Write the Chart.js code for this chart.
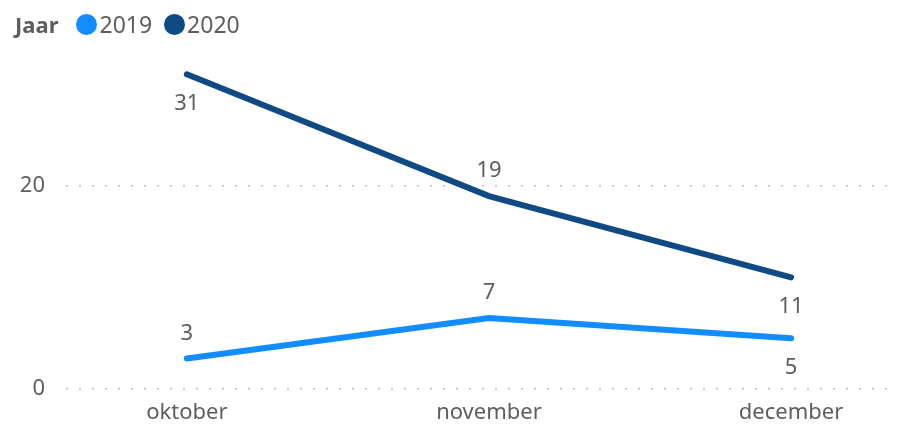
<!DOCTYPE html>
<html lang="nl">
<head>
  <meta charset="UTF-8">
  <title>Jaar 2019 / 2020</title>
  <script src="https://cdn.jsdelivr.net/npm/chart.js"></script>
  <style>
    html, body { margin: 0; padding: 0; background: #fff; }
    .wrap { position: relative; width: 904px; height: 427px; }
    .legende {
      position: absolute; left: 15px; top: 8px;
      display: flex; align-items: center;
      font-family: "Noto Sans", sans-serif; font-size: 23px; color: #605E5C;
    }
    .legende b { margin-right: 18px; font-size: 22px; }
    .legende .dot { width: 21px; height: 21px; border-radius: 50%; display: inline-block; margin-right: 2px; }
    .legende .item { display: flex; align-items: center; margin-right: 12px; }
  </style>
</head>
<body>
  <div class="wrap">
    <canvas id="grafiek" width="904" height="427"></canvas>
    <div class="legende" id="legende"><b>Jaar</b></div>
  </div>

  <script>
    // gegevens
    const maanden = ['oktober', 'november', 'december'];
    const jaar2019 = [3, 7, 5];
    const jaar2020 = [31, 19, 11];
    const yTicks = [0, 20];

    const kleur2019 = '#118DFF';
    const kleur2020 = '#0F4A85';

    // legenda
    const legende = document.getElementById('legende');
    [['2019', kleur2019], ['2020', kleur2020]].forEach(([naam, kleur]) => {
      const el = document.createElement('span');
      el.className = 'item';
      el.innerHTML = '<span class="dot" style="background:' + kleur + '"></span>' + naam;
      legende.appendChild(el);
    });

    // labels boven of onder het punt
    const labelPlugin = {
      id: 'waardeLabels',
      afterDatasetsDraw(chart) {
        const ctx = chart.ctx;
        ctx.save();
        ctx.font = '22px "Noto Sans"';
        ctx.fillStyle = '#605E5C';
        ctx.textAlign = 'center';
        ctx.textBaseline = 'middle';
        chart.data.datasets.forEach((ds, i) => {
          chart.getDatasetMeta(i).data.forEach((pt, j) => {
            const dy = ds.labelPos[j] === 'boven' ? -25 : 29;
            ctx.fillText(String(ds.data[j].y), pt.x, pt.y + dy);
          });
        });
        ctx.restore();
      }
    };

    new Chart(document.getElementById('grafiek'), {
      type: 'line',
      data: {
        datasets: [
          {
            label: '2019',
            data: jaar2019.map((v, i) => ({ x: i, y: v })),
            borderColor: kleur2019,
            borderWidth: 6,
            pointRadius: 0,
            borderCapStyle: 'round',
            labelPos: ['boven', 'boven', 'onder']
          },
          {
            label: '2020',
            data: jaar2020.map((v, i) => ({ x: i, y: v })),
            borderColor: kleur2020,
            borderWidth: 6,
            pointRadius: 0,
            borderCapStyle: 'round',
            labelPos: ['onder', 'boven', 'onder']
          }
        ]
      },
      options: {
        responsive: false,
        animation: false,
        layout: { padding: { top: 54, right: 9, left: 0, bottom: 0 } },
        plugins: { legend: { display: false }, tooltip: { enabled: false } },
        scales: {
          x: {
            type: 'linear',
            min: -0.4,
            max: 2.344,
            afterBuildTicks: s => { s.ticks = maanden.map((m, i) => ({ value: i })); },
            afterFit: s => { s.height = 38; },
            grid: { display: false, drawTicks: false },
            border: { display: false },
            ticks: {
              padding: 11,
              color: '#605E5C',
              font: { family: 'Noto Sans', size: 22 },
              callback: v => maanden[v]
            }
          },
          y: {
            min: 0,
            max: 33,
            afterBuildTicks: s => { s.ticks = yTicks.map(v => ({ value: v })); },
            afterFit: s => { s.width = 66; },
            grid: { color: '#BEBEBE', lineWidth: 1.5, drawTicks: false },
            border: { display: false, dash: [2, 11] },
            ticks: {
              padding: 21,
              color: '#605E5C',
              font: { family: 'Noto Sans', size: 22 }
            }
          }
        }
      },
      plugins: [labelPlugin]
    });
  </script>
</body>
</html>
